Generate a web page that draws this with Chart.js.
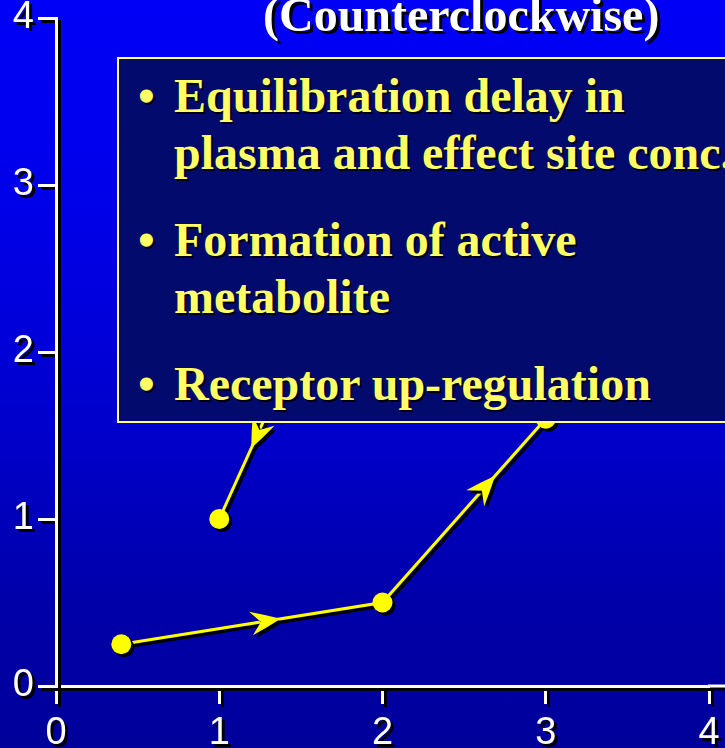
<!DOCTYPE html>
<html>
<head>
<meta charset="utf-8">
<script src="https://cdn.jsdelivr.net/npm/chart.js@4/dist/chart.umd.min.js"></script>
<style>
  html, body { margin: 0; padding: 0; }
  #wrap {
    position: relative; width: 725px; height: 748px; overflow: hidden;
    background: linear-gradient(to bottom, #0000f6 0%, #0000ee 20%, #0000de 40%, #0000c8 60%, #0000aa 80%, #00009a 100%);
  }
  #chart { position: absolute; left: 0; top: 0; }
  .title {
    position: absolute; left: 263px; top: -13px; line-height: 48px;
    font: bold 48px "Liberation Serif", "Times New Roman", serif;
    color: #ffffff; white-space: nowrap; text-shadow: 3px 3px 0 #000;
  }
  .box {
    position: absolute; left: 117px; top: 57px; width: 640px; height: 362px;
    background: #020a6e; border: 2px solid #ffff88;
  }
  .line {
    position: absolute; left: 55px; line-height: 57px; white-space: nowrap;
    font: bold 48px "Liberation Serif", "Times New Roman", serif;
    color: #ffff66; text-shadow: 2px 2px 0 #000;
  }
  .dot { position: absolute; left: -36px; }
</style>
</head>
<body>
<div id="wrap">
  <canvas id="chart" width="725" height="748"></canvas>
  <div class="title">(Counterclockwise)</div>
  <div class="box">
    <div class="line" style="top:9px"><span class="dot">•</span>Equilibration delay in</div>
    <div class="line" style="top:66px">plasma and effect site conc.</div>
    <div class="line" style="top:153px"><span class="dot">•</span>Formation of active</div>
    <div class="line" style="top:210px">metabolite</div>
    <div class="line" style="top:297px"><span class="dot">•</span>Receptor up-regulation</div>
  </div>
</div>
<script>
// ===== Data =====
const axisTicks = [0, 1, 2, 3, 4];

// rising limb (concentration vs effect)
const riseX = [0.4, 2, 3];
const riseY = [0.25, 0.5, 1.6];

// returning limb, first point sits behind the text box
const returnX = [1.37, 1];
const returnY = [1.8, 1];

// arrows: dataset, segment start index, fraction along segment
const arrows = [
  { ds: 0, seg: 0, frac: 0.61 },
  { ds: 0, seg: 1, frac: 0.69 },
  { ds: 1, seg: 0, frac: 0.47 }
];

const toPoints = (xs, ys) => xs.map((x, i) => ({ x: x, y: ys[i] }));

const YELLOW = '#ffff00';

// shadow on everything drawn into the canvas
const shadowPlugin = {
  id: 'shadow',
  beforeDraw(chart) {
    const ctx = chart.ctx;
    ctx.shadowColor = '#000';
    ctx.shadowOffsetX = 3;
    ctx.shadowOffsetY = 3;
    ctx.shadowBlur = 0;
  },
  afterDraw(chart) {
    const ctx = chart.ctx;
    ctx.shadowColor = 'transparent';
    ctx.shadowOffsetX = 0;
    ctx.shadowOffsetY = 0;
  }
};

// x axis line runs on to the right edge of the slide
const axisRunOut = {
  id: 'axisRunOut',
  beforeDatasetsDraw(chart) {
    const ctx = chart.ctx, area = chart.chartArea;
    ctx.save();
    ctx.strokeStyle = '#ffffff';
    ctx.lineWidth = 3;
    ctx.beginPath();
    ctx.moveTo(area.right - 1, area.bottom);
    ctx.lineTo(chart.width, area.bottom);
    ctx.stroke();
    ctx.restore();
  }
};

// barbed arrow heads on the segments
const arrowPlugin = {
  id: 'arrows',
  afterDatasetsDraw(chart) {
    const ctx = chart.ctx;
    arrows.forEach(a => {
      const pts = chart.getDatasetMeta(a.ds).data;
      const p0 = pts[a.seg], p1 = pts[a.seg + 1];
      const dx = p1.x - p0.x, dy = p1.y - p0.y;
      const len = Math.hypot(dx, dy);
      const ux = dx / len, uy = dy / len;
      const nx = -uy, ny = ux;
      const tx = p0.x + dx * a.frac, ty = p0.y + dy * a.frac;
      const L = 30, W = 12, N = 20;
      ctx.save();
      ctx.fillStyle = YELLOW;
      ctx.beginPath();
      ctx.moveTo(tx, ty);
      ctx.quadraticCurveTo(tx - L * 0.5 * ux + W * 0.55 * nx, ty - L * 0.5 * uy + W * 0.55 * ny,
                           tx - L * ux + W * nx, ty - L * uy + W * ny);
      ctx.lineTo(tx - N * ux, ty - N * uy);
      ctx.lineTo(tx - L * ux - W * nx, ty - L * uy - W * ny);
      ctx.quadraticCurveTo(tx - L * 0.5 * ux - W * 0.55 * nx, ty - L * 0.5 * uy - W * 0.55 * ny,
                           tx, ty);
      ctx.closePath();
      ctx.fill();
      ctx.restore();
    });
  }
};

const tickFont = { family: '"Liberation Sans", Arial, sans-serif', size: 38 };

const axisOpts = {
  type: 'linear',
  min: 0,
  max: 4,
  afterBuildTicks: scale => { scale.ticks = axisTicks.map(v => ({ value: v })); },
  ticks: { color: '#ffffff', font: tickFont, padding: 4 },
  grid: {
    drawOnChartArea: false,
    drawTicks: true,
    tickLength: 18,
    tickColor: '#ffffff',
    tickWidth: 3
  },
  border: { color: '#ffffff', width: 3 }
};

new Chart(document.getElementById('chart'), {
  type: 'scatter',
  data: {
    datasets: [
      {
        data: toPoints(riseX, riseY),
        showLine: true,
        borderColor: YELLOW,
        borderWidth: 3,
        backgroundColor: YELLOW,
        pointBackgroundColor: YELLOW,
        pointBorderWidth: 0,
        pointRadius: 10
      },
      {
        data: toPoints(returnX, returnY),
        showLine: true,
        borderColor: YELLOW,
        borderWidth: 3,
        backgroundColor: YELLOW,
        pointBackgroundColor: YELLOW,
        pointBorderWidth: 0,
        pointRadius: [0, 10]
      }
    ]
  },
  options: {
    responsive: false,
    animation: false,
    layout: { padding: { top: 18, right: 16, left: 0, bottom: 0 } },
    plugins: {
      legend: { display: false },
      tooltip: { enabled: false }
    },
    scales: {
      x: Object.assign({}, axisOpts, {
        ticks: { color: '#ffffff', font: tickFont, padding: 7 },
        afterFit: scale => {
          scale.height = 62;
          scale.paddingRight = 0;
        }
      }),
      y: Object.assign({}, axisOpts, {
        afterFit: scale => {
          scale.width = 56;
          scale.paddingTop = 0;
        }
      })
    }
  },
  plugins: [shadowPlugin, axisRunOut, arrowPlugin]
});
</script>
</body>
</html>
